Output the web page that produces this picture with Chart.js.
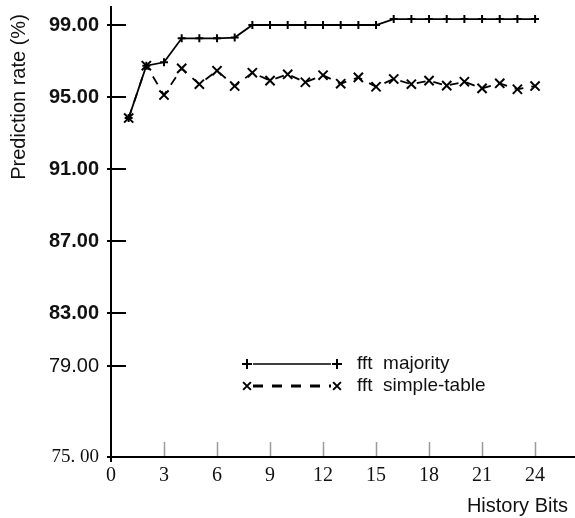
<!DOCTYPE html>
<html>
<head>
<meta charset="utf-8">
<script src="https://cdn.jsdelivr.net/npm/chart.js@4/dist/chart.umd.min.js"></script>
<style>
  html, body { margin: 0; padding: 0; background: #fff; }
</style>
</head>
<body>
<canvas id="rateChart" width="575" height="518"></canvas>
<script>
// History length (bits) vs. prediction rate for the two fft predictors
const historyBits = [1, 2, 3, 4, 5, 6, 7, 8, 9, 10, 11, 12, 13, 14, 15, 16, 17, 18, 19, 20, 21, 22, 23, 24];
const majorityRate = [93.83, 96.74, 96.93, 98.26, 98.26, 98.26, 98.30, 99.00, 99.00, 99.00, 99.00, 99.00,
  99.00, 99.00, 99.00, 99.33, 99.33, 99.33, 99.33, 99.33, 99.33, 99.33, 99.33, 99.33];
const simpleTableRate = [93.83, 96.74, 95.11, 96.59, 95.71, 96.46, 95.61, 96.35, 95.91, 96.26, 95.82, 96.21,
  95.74, 96.09, 95.57, 96.00, 95.71, 95.91, 95.63, 95.85, 95.48, 95.76, 95.43, 95.61];

const seriesNames = ['fft  majority', 'fft  simple-table'];
const xTickValues = [0, 3, 6, 9, 12, 15, 18, 21, 24];
const yTickPositions = [75, 80.05, 83, 87, 91, 95, 99];
const yTickLabels = ['75. 00', '79.00', '83.00', '87.00', '91.00', '95.00', '99.00'];

const SANS = "'Liberation Sans', Arial, sans-serif";
const SERIF = "'Liberation Serif', 'Times New Roman', serif";

function strokeLine(ctx, x1, y1, x2, y2) {
  ctx.beginPath();
  ctx.moveTo(x1, y1);
  ctx.lineTo(x2, y2);
  ctx.stroke();
}

// tick marks drawn inside the plot, axis titles and the legend box
const axisDecor = {
  id: 'axisDecor',
  afterDatasetsDraw(chart) {
    const { ctx, chartArea, scales: { x, y } } = chart;
    ctx.save();

    ctx.strokeStyle = '#9a9a9a';
    ctx.lineWidth = 1.5;
    xTickValues.forEach(v => {
      if (v === 0) return;
      const px = Math.round(x.getPixelForValue(v)) + 0.5;
      strokeLine(ctx, px, chartArea.bottom - 15, px, chartArea.bottom - 1);
    });

    ctx.strokeStyle = '#000';
    ctx.lineWidth = 2;
    yTickPositions.forEach(v => {
      const py = Math.round(y.getPixelForValue(v));
      strokeLine(ctx, chartArea.left - 4, py, chartArea.left + 15, py);
    });
    strokeLine(ctx, chartArea.left, chartArea.bottom, chartArea.left, chartArea.bottom + 5);

    ctx.fillStyle = '#111';
    ctx.font = '20px ' + SANS;
    ctx.textAlign = 'right';
    ctx.textBaseline = 'middle';
    ctx.fillText('History Bits', 568, 506);

    ctx.save();
    ctx.translate(19, 97);
    ctx.rotate(-Math.PI / 2);
    ctx.textAlign = 'center';
    ctx.fillText('Prediction rate (%)', 0, 0);
    ctx.restore();

    // legend
    const rows = [364, 386];
    chart.data.datasets.forEach((ds, i) => {
      const ly = rows[i];
      ctx.strokeStyle = '#000';
      ctx.lineWidth = i === 0 ? 1.5 : 3;
      ctx.setLineDash(i === 0 ? [] : [10, 9]);
      strokeLine(ctx, 253, ly, 331, ly);
      ctx.setLineDash([]);
      ctx.lineWidth = 2;
      [247, 337].forEach(mx => {
        Chart.helpers.drawPoint(ctx, { pointStyle: ds.pointStyle, radius: i === 0 ? 5 : 5.5, rotation: 0, borderWidth: 2 }, mx, ly);
      });
      ctx.fillStyle = '#111';
      ctx.font = '19px ' + SANS;
      ctx.textAlign = 'left';
      ctx.fillText(seriesNames[i], 357, ly);
    });

    ctx.restore();
  }
};

new Chart(document.getElementById('rateChart'), {
  type: 'line',
  data: {
    labels: historyBits,
    datasets: [
      {
        label: seriesNames[0],
        data: historyBits.map((b, i) => ({ x: b, y: majorityRate[i] })),
        borderColor: '#000',
        borderWidth: 1.8,
        pointStyle: 'cross',
        pointRadius: 4,
        pointBorderWidth: 2,
        pointBorderColor: '#000',
        fill: false,
        tension: 0
      },
      {
        label: seriesNames[1],
        data: historyBits.map((b, i) => ({ x: b, y: simpleTableRate[i] })),
        borderColor: '#000',
        borderWidth: 1.8,
        borderDash: [9, 8],
        pointStyle: 'crossRot',
        pointRadius: 6.5,
        pointBorderWidth: 2,
        pointBorderColor: '#000',
        fill: false,
        tension: 0
      }
    ]
  },
  options: {
    responsive: false,
    animation: false,
    layout: { autoPadding: false, padding: { top: 7, right: 0, left: 0, bottom: 0 } },
    plugins: {
      legend: { display: false },
      tooltip: { enabled: false }
    },
    scales: {
      x: {
        type: 'linear',
        min: 0,
        max: 26.26,
        afterBuildTicks: scale => { scale.ticks = xTickValues.map(v => ({ value: v })); },
        afterFit: scale => {
          scale.height = 61;
          scale.paddingLeft = 0;
          scale.paddingRight = 0;
        },
        grid: { display: false, drawTicks: false },
        border: { display: true, color: '#000', width: 2 },
        ticks: {
          padding: 7,
          maxRotation: 0,
          color: '#111',
          font: { family: SERIF, size: 20 }
        }
      },
      y: {
        type: 'linear',
        min: 75,
        max: 100,
        afterBuildTicks: scale => { scale.ticks = yTickPositions.map(v => ({ value: v })); },
        afterFit: scale => {
          scale.width = 111;
          scale.paddingTop = 0;
          scale.paddingBottom = 0;
        },
        grid: { display: false, drawTicks: false },
        border: { display: true, color: '#000', width: 2 },
        ticks: {
          padding: 12,
          color: '#111',
          callback: (value, i) => yTickLabels[i],
          font: ctx => {
            if (ctx.index === 0) return { family: SERIF, size: 19 };
            if (ctx.index === 1) return { family: SANS, size: 20 };
            return { family: SANS, size: 20, weight: 'bold' };
          }
        }
      }
    }
  },
  plugins: [axisDecor]
});
</script>
</body>
</html>
